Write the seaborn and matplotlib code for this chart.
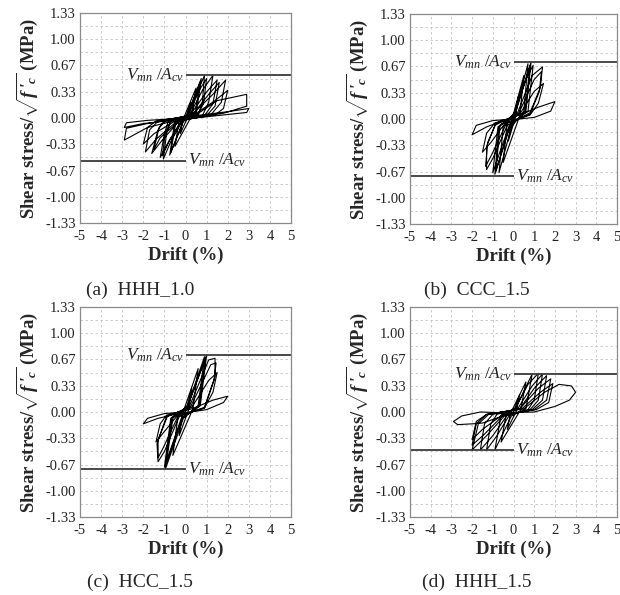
import matplotlib
matplotlib.use("Agg")
import matplotlib.pyplot as plt
import seaborn as sns

# ---- data (drift in %, stress in sqrt(f'c) units) ----
hhh10_drift = [
    0.0, 0.25, 0.12, -0.25, -0.12,
    0.5, 0.3, -0.5, -0.3,
    0.1, 0.75, 0.5, -0.1, -0.75, -0.5,
    0.1, 0.7, 0.45, -0.1, -0.7, -0.45,
    0.1, 0.6, 0.9, 0.8, 0.6, -0.15, -0.7, -1.05, -0.9, -0.7,
    0.15, 0.65, 1.0, 0.85, 0.55, -0.2, -0.75, -1.1, -0.95, -0.65,
    0.2, 0.8, 1.3, 1.1, 0.8, -0.2, -0.8, -1.2, -1.0, -0.8,
    0.2, 1.0, 1.5, 1.3, 0.9, -0.3, -1.1, -1.6, -1.3, -1.0,
    0.3, 1.1, 1.6, 1.4, 1.0, -0.3, -1.2, -1.5, -1.25, -0.9,
    0.3, 1.3, 1.9, 1.7, 1.2, -0.4, -1.4, -1.9, -1.7, -1.3,
    0.4, 1.4, 2.0, 1.8, 1.4, -0.5, -1.5, -2.0, -1.8, -1.4,
    0.5, 1.5, 2.9, 2.9, 1.8, -0.6, -1.8, -2.9, -2.8, -1.8,
    0.5, 2.0, 3.0, 2.9, 1.5, -0.6, -2.0, -2.9, -2.8, -1.8, 0.0]
hhh10_stress = [
    0.0, 0.2, 0.02, -0.2, -0.02,
    0.38, 0.03, -0.36, -0.03,
    0.05, 0.5, 0.04, -0.04, -0.47, -0.04,
    0.04, 0.46, 0.04, -0.04, -0.44, -0.04,
    0.04, 0.35, 0.54, 0.2, 0.03, -0.04, -0.3, -0.52, -0.2, -0.03,
    0.04, 0.35, 0.5, 0.18, 0.03, -0.04, -0.28, -0.48, -0.18, -0.03,
    0.04, 0.35, 0.54, 0.2, 0.03, -0.04, -0.3, -0.5, -0.2, -0.03,
    0.03, 0.33, 0.48, 0.18, 0.03, -0.04, -0.28, -0.45, -0.15, -0.03,
    0.03, 0.3, 0.45, 0.15, 0.03, -0.04, -0.25, -0.4, -0.12, -0.03,
    0.04, 0.3, 0.48, 0.2, 0.04, -0.04, -0.27, -0.43, -0.15, -0.04,
    0.04, 0.22, 0.35, 0.12, 0.04, -0.04, -0.2, -0.33, -0.12, -0.04,
    0.04, 0.22, 0.3, 0.15, 0.06, -0.04, -0.12, -0.28, -0.13, -0.07,
    0.03, 0.08, 0.12, 0.07, 0.03, -0.03, -0.07, -0.12, -0.06, -0.03, 0.0]

ccc15_drift = [
    0.0, 0.25, 0.1, -0.25, -0.1,
    0.5, 0.3, -0.5, -0.3,
    0.1, 0.7, 0.5, -0.1, -0.7, -0.5,
    0.1, 0.85, 0.6, -0.2, -0.9, -0.7,
    0.1, 0.8, 0.55, -0.15, -0.85, -0.65,
    0.0, 0.6, 0.95, 0.7, -0.2, -0.7, -1.0, -0.75,
    0.2, 0.9, 1.4, 1.3, 0.8, -0.3, -1.0, -1.3, -1.3, -0.9,
    0.25, 1.0, 1.35, 1.25, 0.8, -0.35, -1.05, -1.35, -1.25, -0.85,
    0.3, 1.0, 1.45, 1.2, 0.8, -0.4, -1.1, -1.5, -1.3, -0.9,
    0.3, 1.2, 2.0, 1.8, 1.0, -0.5, -1.3, -2.0, -1.8, -1.0, 0.0]
ccc15_stress = [
    0.0, 0.3, 0.03, -0.28, -0.03,
    0.55, 0.04, -0.55, -0.04,
    0.1, 0.7, 0.1, -0.1, -0.68, -0.1,
    0.1, 0.72, 0.1, -0.1, -0.7, -0.1,
    0.08, 0.68, 0.08, -0.08, -0.66, -0.08,
    0.05, 0.5, 0.68, 0.1, -0.08, -0.45, -0.68, -0.1,
    0.08, 0.55, 0.66, 0.4, 0.08, -0.08, -0.5, -0.64, -0.35, -0.08,
    0.07, 0.5, 0.6, 0.35, 0.06, -0.06, -0.45, -0.6, -0.3, -0.06,
    0.06, 0.35, 0.45, 0.2, 0.05, -0.05, -0.3, -0.42, -0.18, -0.05,
    0.05, 0.15, 0.22, 0.1, 0.02, -0.02, -0.1, -0.2, -0.08, -0.02, 0.0]

hcc15_drift = [
    0.0, 0.3, 0.15, -0.3, -0.15,
    0.6, 0.35, -0.6, -0.35,
    0.1, 0.9, 0.6, -0.1, -0.95, -0.6,
    0.1, 1.0, 0.7, -0.2, -1.0, -0.7,
    0.1, 0.95, 0.65, -0.15, -0.95, -0.65,
    0.2, 1.1, 1.4, 1.4, 0.9, -0.3, -1.0, -1.3, -1.35, -0.9,
    0.25, 1.2, 1.45, 1.35, 0.9, -0.35, -1.05, -1.3, -1.3, -0.85,
    0.3, 1.1, 1.5, 1.3, 0.9, -0.4, -1.1, -1.4, -1.2, -0.9,
    0.3, 1.3, 2.0, 1.8, 1.0, -0.5, -1.3, -2.0, -1.8, -1.0, 0.0]
hcc15_stress = [
    0.0, 0.3, 0.03, -0.3, -0.03,
    0.55, 0.04, -0.55, -0.04,
    0.08, 0.7, 0.08, -0.08, -0.72, -0.08,
    0.08, 0.72, 0.08, -0.08, -0.7, -0.08,
    0.07, 0.68, 0.07, -0.07, -0.68, -0.07,
    0.08, 0.66, 0.68, 0.45, 0.06, -0.06, -0.5, -0.63, -0.4, -0.06,
    0.07, 0.6, 0.62, 0.4, 0.05, -0.05, -0.45, -0.58, -0.35, -0.05,
    0.06, 0.4, 0.5, 0.25, 0.05, -0.05, -0.28, -0.38, -0.15, -0.04,
    0.04, 0.15, 0.2, 0.12, 0.03, -0.03, -0.08, -0.15, -0.08, -0.02, 0.0]

hhh15_drift = [
    0.0, 0.3, 0.15, -0.3, -0.15,
    0.6, 0.35, -0.6, -0.35,
    0.1, 0.9, 0.6, -0.1, -0.9, -0.6,
    0.1, 0.7, 1.2, 1.0, 0.7, -0.2, -0.8, -1.3, -1.1, -0.8,
    0.2, 0.9, 1.4, 1.2, 0.8, -0.3, -1.0, -1.6, -1.4, -1.0,
    0.3, 1.0, 1.6, 1.4, 0.9, -0.4, -1.3, -2.0, -1.7, -1.2,
    0.3, 1.2, 1.8, 1.6, 1.0, -0.5, -1.4, -2.0, -1.8, -1.3,
    0.4, 1.3, 1.9, 1.7, 1.1, -0.5, -1.5, -2.0, -1.8, -1.3,
    0.5, 1.5, 2.2, 2.8, 3.0, 2.7, 2.0, 1.0, -0.5, -1.6, -2.5, -2.9, -2.7,
    -2.0, -1.5, -0.5, 0.0]
hhh15_stress = [
    0.0, 0.22, 0.02, -0.22, -0.02,
    0.38, 0.03, -0.38, -0.03,
    0.05, 0.48, 0.04, -0.05, -0.48, -0.04,
    0.05, 0.35, 0.49, 0.15, 0.03, -0.04, -0.3, -0.48, -0.15, -0.03,
    0.04, 0.33, 0.48, 0.15, 0.03, -0.04, -0.3, -0.48, -0.15, -0.03,
    0.04, 0.3, 0.46, 0.15, 0.03, -0.04, -0.3, -0.48, -0.15, -0.03,
    0.04, 0.3, 0.42, 0.15, 0.03, -0.04, -0.28, -0.42, -0.15, -0.03,
    0.04, 0.25, 0.36, 0.12, 0.03, -0.03, -0.22, -0.35, -0.12, -0.03,
    0.04, 0.25, 0.35, 0.33, 0.25, 0.15, 0.07, 0.0, -0.01, 0.0, -0.05, -0.12, -0.16,
    -0.15, -0.14, -0.05, 0.0]

# nominal strength Vmn/Acv of each specimen
vmn_levels = [0.54, 0.72, 0.72, 0.48]
captions = ["(a)  HHH_1.0", "(b)  CCC_1.5", "(c)  HCC_1.5", "(d)  HHH_1.5"]

ytick_vals = [-1.33, -1.0, -0.67, -0.33, 0.0, 0.33, 0.67, 1.0, 1.33]
ytick_labels = ["-1.33", "-1.00", "-0.67", "-0.33", "0.00", "0.33", "0.67", "1.00", "1.33"]
ygrid_minor = [-1.165, -0.835, -0.5, -0.165, 0.165, 0.5, 0.835, 1.165]
xtick_vals = [-5, -4, -3, -2, -1, 0, 1, 2, 3, 4, 5]

W, H = 620, 595


def axes_box(left, top, right, bottom):
    """Pixel box -> figure fraction rect."""
    return [left / W, 1 - bottom / H, (right - left) / W, (bottom - top) / H]


def draw_panel(fig, box, drift, stress, vmn, caption, cap_x, cap_y):
    ax = fig.add_axes(box)
    ax.set_xlim(-5, 5)
    ax.set_ylim(-1.33, 1.33)

    ax.set_xticks(xtick_vals)
    ax.set_xticklabels([str(v) for v in xtick_vals])
    ax.set_yticks(ytick_vals)
    ax.set_yticklabels(ytick_labels)
    ax.set_yticks(ygrid_minor, minor=True)
    ax.tick_params(which="both", length=0, labelsize=10.5, colors="#222222", pad=3)
    ax.tick_params(axis="x", pad=5)

    ax.grid(True, which="both", linestyle=(0, (3, 3)), color="#c4c4c4", linewidth=0.6)
    ax.set_axisbelow(True)
    for sp in ax.spines.values():
        sp.set_color("#8a8a8a")
        sp.set_linewidth(0.9)

    # hysteresis response
    sns.lineplot(x=drift, y=stress, sort=False, estimator=None, color="black",
                 linewidth=0.8, ax=ax)

    # Vmn/Acv limits
    ax.plot([0, 5], [vmn, vmn], color="#3a3a3a", linewidth=1.3, solid_capstyle="butt")
    ax.plot([-5, 0], [-vmn, -vmn], color="#3a3a3a", linewidth=1.3, solid_capstyle="butt")
    lab = r"$V_{mn}\ /A_{cv}$"
    ax.text(-0.05, vmn, lab, ha="right", va="center", fontsize=12.5, color="#222222")
    ax.text(0.1, -vmn, lab, ha="left", va="center", fontsize=12.5, color="#222222")

    ax.set_xlabel("Drift (%)", fontsize=13.5, fontweight="bold", labelpad=3)
    ax.set_ylabel(r"Shear stress/$\sqrt{\mathbf{f\,'_c}}$ (MPa)", fontsize=13.5,
                  fontweight="bold", labelpad=4)

    fig.text(cap_x / W, 1 - cap_y / H, caption, ha="center", va="center", fontsize=14)
    return ax


def main():
    sns.set_style("white")
    plt.rcParams["font.family"] = ["Liberation Serif", "DejaVu Serif"]
    plt.rcParams["mathtext.fontset"] = "custom"
    plt.rcParams["mathtext.rm"] = "Liberation Serif"
    plt.rcParams["mathtext.it"] = "Liberation Serif:italic"
    plt.rcParams["mathtext.bf"] = "Liberation Serif:bold:italic"

    fig = plt.figure(figsize=(W / 100, H / 100), dpi=100)
    fig.patch.set_facecolor("white")

    panels = [
        (axes_box(80, 13, 291, 223), hhh10_drift, hhh10_stress, 140, 290),
        (axes_box(410, 14, 617, 224), ccc15_drift, ccc15_stress, 477, 290),
        (axes_box(80, 307, 291, 517), hcc15_drift, hcc15_stress, 140, 582),
        (axes_box(410, 307, 617, 517), hhh15_drift, hhh15_stress, 477, 582),
    ]
    for (box, dr, st, cx, cy), vmn, cap in zip(panels, vmn_levels, captions):
        draw_panel(fig, box, dr, st, vmn, cap, cx, cy)

    fig.savefig("out.png", dpi=100)
    plt.close(fig)


if __name__ == "__main__":
    main()
